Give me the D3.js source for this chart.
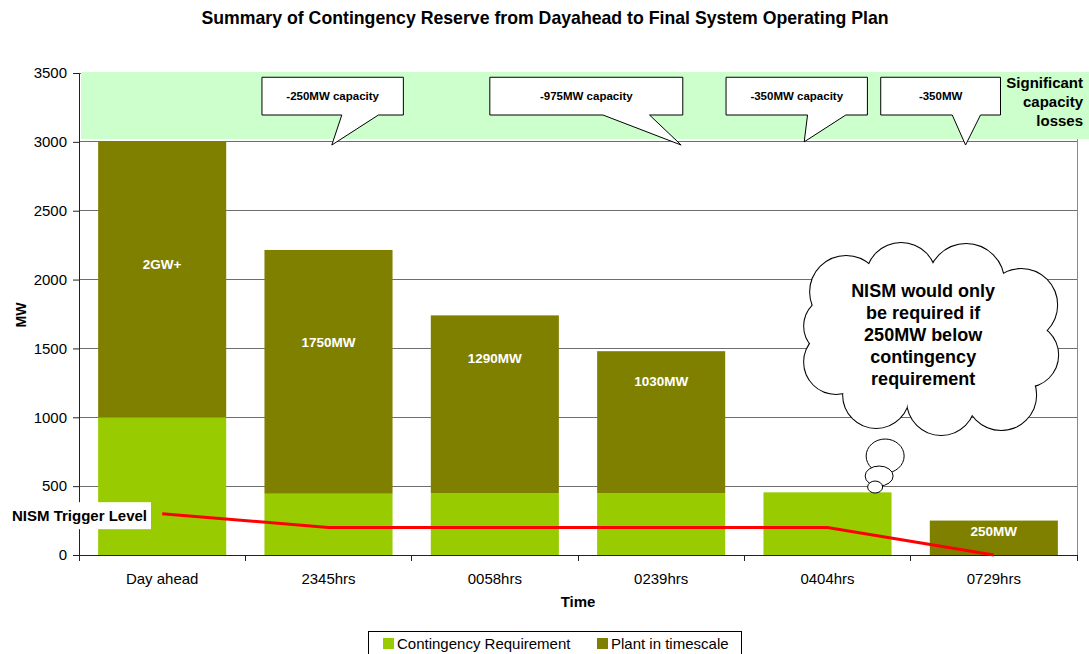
<!DOCTYPE html>
<html>
<head>
<meta charset="utf-8">
<title>Summary of Contingency Reserve</title>
<script src="https://d3js.org/d3.v7.min.js"></script>
<style>
  body { margin: 0; background: #fff; }
  svg { font-family: "Liberation Sans", Arial, sans-serif; display: block; }
</style>
</head>
<body>
<svg id="chart"></svg>
<script>
// data
var categories = ["Day ahead", "2345hrs", "0058hrs", "0239hrs", "0404hrs", "0729hrs"];
var contingency = [1000, 445, 450, 450, 455, 0];
var plant = [2000, 1770, 1290, 1030, 0, 250];
var plantLabels = ["2GW+", "1750MW", "1290MW", "1030MW", "", "250MW"];
var plantLabelAt = [2110, 1545, 1430, 1265, 0, 170];   // value where each label sits
var trigger = [300, 200, 200, 200, 200, 0];
var yTicks = [0, 500, 1000, 1500, 2000, 2500, 3000, 3500];
var lossBand = [3020, 3500];
var calloutTexts = ["-250MW capacity", "-975MW capacity", "-350MW capacity", "-350MW"];
var seriesNames = ["Contingency Requirement", "Plant in timescale"];

var W = 1089, H = 654;
var margin = {top: 73, left: 79};
var width = 998, height = 482;
var colors = ["#99CC00", "#808000"];

var svg = d3.select("#chart").attr("width", W).attr("height", H);
var g = svg.append("g").attr("transform", "translate(" + margin.left + "," + margin.top + ")");

var x = d3.scaleBand().domain(categories).range([0, width])
    .paddingInner(0.23).paddingOuter(0.115);
var y = d3.scaleLinear().domain([0, 3500]).range([height, 0]);
// category units: 0 = left edge of plot, 6 = right edge (used for annotations)
var xu = d3.scaleLinear().domain([0, categories.length]).range([0, width]);

// gridlines
g.append("g").selectAll("line").data(yTicks.filter(function(d) { return d > 0; }))
  .enter().append("line")
    .attr("x1", 0).attr("x2", width)
    .attr("y1", function(d) { return y(d); }).attr("y2", function(d) { return y(d); })
    .attr("stroke", "#6e6e6e").attr("stroke-width", 1).attr("shape-rendering", "crispEdges");

// right border of plot
g.append("line").attr("x1", width).attr("x2", width).attr("y1", 0).attr("y2", height)
  .attr("stroke", "#8a8a8a").attr("shape-rendering", "crispEdges");

// significant capacity loss band
g.append("rect")
  .attr("x", xu(0) + 2).attr("y", y(lossBand[1]) - 1)
  .attr("width", W - margin.left - 2).attr("height", y(lossBand[0]) - y(lossBand[1]) + 1)
  .attr("fill", "#CCFFCC");

// stacked bars
var rows = categories.map(function(c, i) { return {cat: c, contingency: contingency[i], plant: plant[i]}; });
var stack = d3.stack().keys(["contingency", "plant"])(rows);

g.append("g").selectAll("g").data(stack).enter().append("g")
    .attr("fill", function(d, i) { return colors[i]; })
  .selectAll("rect").data(function(d) { return d; }).enter().append("rect")
    .attr("x", function(d) { return x(d.data.cat); })
    .attr("width", x.bandwidth())
    .attr("y", function(d) { return y(d[1]); })
    .attr("height", function(d) { return y(d[0]) - y(d[1]); });

// bar labels
g.append("g").selectAll("text").data(plantLabels).enter().append("text")
    .attr("x", function(d, i) { return x(categories[i]) + x.bandwidth() / 2; })
    .attr("y", function(d, i) { return y(plantLabelAt[i]); })
    .attr("dy", "0.35em")
    .attr("text-anchor", "middle")
    .attr("fill", "#fff").attr("font-weight", "bold").attr("font-size", "13.5px")
    .text(function(d) { return d; });

// x axis
var xAxis = g.append("g").attr("transform", "translate(0," + height + ")")
  .call(d3.axisBottom(x).tickSize(0).tickPadding(18));
xAxis.select(".domain").attr("stroke", "#222");
xAxis.selectAll("text").attr("font-size", "15px").attr("fill", "#000").attr("font-family", null);
// excel-style ticks between categories
xAxis.selectAll(".btick").data(d3.range(categories.length + 1)).enter().append("line")
    .attr("class", "btick")
    .attr("x1", function(d) { return xu(d); }).attr("x2", function(d) { return xu(d); })
    .attr("y1", 0).attr("y2", 6).attr("stroke", "#222").attr("shape-rendering", "crispEdges");

// y axis
var yAxis = g.append("g").call(d3.axisLeft(y).tickValues(yTicks).tickFormat(d3.format("d"))
  .tickSize(6).tickPadding(6));
yAxis.select(".domain").attr("stroke", "#222");
yAxis.selectAll("line").attr("stroke", "#222");
yAxis.selectAll("text").attr("font-size", "15px").attr("fill", "#000").attr("font-family", null);

// NISM trigger level line
var line = d3.line()
  .x(function(d, i) { return x(categories[i]) + x.bandwidth() / 2; })
  .y(function(d) { return y(d); });
g.append("path").datum(trigger)
  .attr("d", line).attr("fill", "none").attr("stroke", "#FF0000").attr("stroke-width", 3);

// NISM trigger label
var lbl = svg.append("g").attr("transform", "translate(10," + (margin.top + y(trigger[0]) - 11.5) + ")");
lbl.append("rect").attr("width", 141).attr("height", 27).attr("fill", "#fff");
lbl.append("text").attr("x", 2).attr("y", 18.5)
  .attr("font-weight", "bold").attr("font-size", "15px").text("NISM Trigger Level");

// callouts (in category units / MW values)
var callouts = [
  {x0: 1.10, x1: 1.95, b0: 1.58, b1: 1.80, tx: 1.52, ty: 2977},
  {x0: 2.47, x1: 3.63, b0: 3.15, b1: 3.43, tx: 3.62, ty: 2977},
  {x0: 3.89, x1: 4.74, b0: 4.38, b1: 4.61, tx: 4.36, ty: 3000},
  {x0: 4.82, x1: 5.54, b0: 5.25, b1: 5.42, tx: 5.33, ty: 2977}
];
var boxTop = 3469, boxBottom = 3195;
var co = g.append("g").selectAll("g").data(callouts).enter().append("g");
co.append("path")
  .attr("d", function(c) {
    var yt = y(boxTop), yb = y(boxBottom);
    return "M" + xu(c.x0) + "," + yt + "L" + xu(c.x1) + "," + yt + "L" + xu(c.x1) + "," + yb +
      "L" + xu(c.b1) + "," + yb + "L" + xu(c.tx) + "," + y(c.ty) + "L" + xu(c.b0) + "," + yb +
      "L" + xu(c.x0) + "," + yb + "Z";
  })
  .attr("fill", "#fff").attr("stroke", "#000").attr("stroke-width", 1);
co.append("text")
  .attr("x", function(c) { return (xu(c.x0) + xu(c.x1)) / 2; })
  .attr("y", (y(boxTop) + y(boxBottom)) / 2)
  .attr("dy", "0.35em").attr("text-anchor", "middle")
  .attr("font-weight", "bold").attr("font-size", "11.5px")
  .text(function(c, i) { return calloutTexts[i]; });

// "Significant capacity losses"
svg.append("text").attr("text-anchor", "end").attr("font-weight", "bold").attr("font-size", "15px")
  .selectAll("tspan").data(["Significant", "capacity", "losses"]).enter().append("tspan")
    .attr("x", 1083).attr("y", function(d, i) { return 88 + i * 19; })
    .text(function(d) { return d; });

// thought cloud
var cloud = {cu: 5.123, v: 1561};
var cx = margin.left + xu(cloud.cu), cy = margin.top + y(cloud.v);
var bumps = [
  [-85, -48, 36], [-30, -62, 35], [35, -58, 38], [90, -35, 36], [95, 15, 32],
  [70, 55, 35], [10, 61, 34], [-55, 55, 33], [-95, 22, 32], [-98, -14, 29]
];
var cg = svg.append("g").attr("transform", "translate(" + cx + "," + cy + ")");
cg.selectAll("circle.o").data(bumps).enter().append("circle").attr("class", "o")
  .attr("cx", function(d) { return d[0]; }).attr("cy", function(d) { return d[1]; })
  .attr("r", function(d) { return d[2]; })
  .attr("fill", "#fff").attr("stroke", "#000").attr("stroke-width", 2);
cg.selectAll("circle.i").data(bumps).enter().append("circle").attr("class", "i")
  .attr("cx", function(d) { return d[0]; }).attr("cy", function(d) { return d[1]; })
  .attr("r", function(d) { return d[2]; })
  .attr("fill", "#fff");
cg.append("ellipse").attr("rx", 100).attr("ry", 66).attr("fill", "#fff");
cg.selectAll("ellipse.b").data([[-46, 116, 19, 17], [-52, 136, 14, 10], [-56, 147, 7.5, 6]])
  .enter().append("ellipse").attr("class", "b")
    .attr("cx", function(d) { return d[0]; }).attr("cy", function(d) { return d[1]; })
    .attr("rx", function(d) { return d[2]; }).attr("ry", function(d) { return d[3]; })
    .attr("fill", "#fff").attr("stroke", "#000").attr("stroke-width", 1);
cg.append("text").attr("text-anchor", "middle").attr("font-weight", "bold").attr("font-size", "18px")
  .selectAll("tspan")
  .data(["NISM would only", "be required if", "250MW below", "contingency", "requirement"])
  .enter().append("tspan")
    .attr("x", -8).attr("y", function(d, i) { return -43 + i * 22; })
    .text(function(d) { return d; });

// title and axis titles
svg.append("text").attr("x", 545).attr("y", 24).attr("text-anchor", "middle")
  .attr("font-weight", "bold").attr("font-size", "17.7px")
  .text("Summary of Contingency Reserve from Dayahead to Final System Operating Plan");
svg.append("text").attr("transform", "translate(26,315) rotate(-90)").attr("text-anchor", "middle")
  .attr("font-weight", "bold").attr("font-size", "14px").text("MW");
svg.append("text").attr("x", margin.left + width / 2).attr("y", 607).attr("text-anchor", "middle")
  .attr("font-weight", "bold").attr("font-size", "15px").text("Time");

// legend
var leg = svg.append("g");
leg.append("rect").attr("x", 368.5).attr("y", 631.5).attr("width", 373).attr("height", 40)
  .attr("fill", "#fff").attr("stroke", "#000");
var legX = [383, 597];
var item = leg.selectAll("g.item").data(seriesNames).enter().append("g").attr("class", "item")
  .attr("transform", function(d, i) { return "translate(" + legX[i] + ",0)"; });
item.append("rect").attr("y", 638).attr("width", 11).attr("height", 11)
  .attr("fill", function(d, i) { return colors[i]; });
item.append("text").attr("x", 14).attr("y", 648.5).attr("font-size", "15px")
  .text(function(d) { return d; });
</script>
</body>
</html>
